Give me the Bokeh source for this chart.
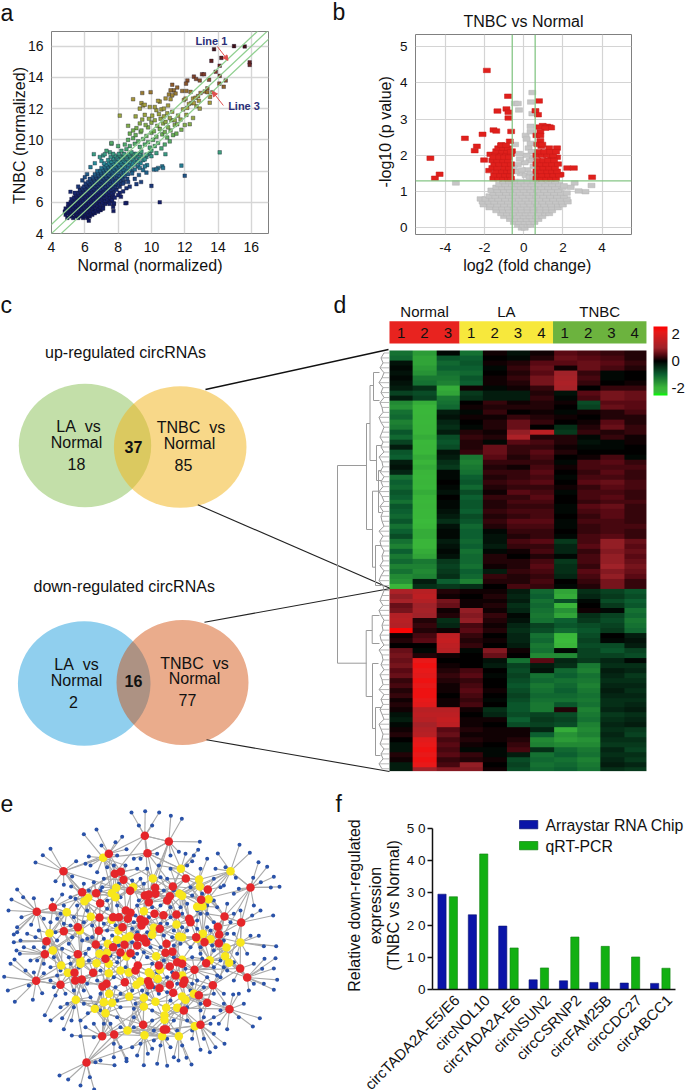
import numpy as np
from bokeh.core.properties import value
from bokeh.embed import file_html
from bokeh.models import (Arrow, ColorBar, ColumnDataSource, FixedTicker,
                          LinearAxis, LinearColorMapper, NormalHead, Range1d)
from bokeh.plotting import figure
from bokeh.resources import INLINE
from bokeh.transform import transform

FONT = "Liberation Sans"

# ---------- panel a: scatter ----------
a_blob_rows = {
 5.0:[4.95,5.3,5.6,5.9,6.15], 5.1:[5.1,5.45,5.75,6.05,6.3], 5.2:[4.85,5.2,5.55,5.85,6.2,6.45],
 5.3:[5.0,5.35,5.7,6.0,6.35,6.6], 5.4:[4.8,5.15,5.5,5.8,6.15,6.5,6.8], 5.5:[4.95,5.3,5.65,6.0,6.3,6.65,6.95],
 5.6:[4.85,5.15,5.45,5.8,6.15,6.45,6.8,7.05], 5.7:[5.0,5.3,5.6,5.95,6.3,6.6,6.9], 5.8:[5.1,5.45,5.75,6.1,6.45,6.75,7.1],
 5.9:[5.0,5.25,5.6,5.9,6.25,6.55,6.9,7.25], 6.0:[5.15,5.4,5.75,6.05,6.4,6.7,7.05,7.4], 6.1:[5.3,5.55,5.9,6.2,6.55,6.85,7.2,7.5],
 6.2:[5.2,5.45,5.7,6.05,6.35,6.7,7.0,7.35,7.6], 6.3:[5.35,5.6,5.85,6.2,6.5,6.85,7.15,7.5], 6.4:[5.5,5.75,6.0,6.35,6.65,7.0,7.3,7.65],
 6.5:[5.45,5.65,5.9,6.15,6.5,6.8,7.15,7.45,7.7], 6.6:[5.6,5.8,6.05,6.3,6.65,6.95,7.3,7.6], 6.7:[5.75,5.95,6.2,6.45,6.8,7.1,7.45,7.75],
 6.8:[5.7,5.9,6.1,6.35,6.6,6.95,7.25,7.6,7.9], 6.9:[5.85,6.05,6.25,6.5,6.75,7.1,7.4,7.7], 7.0:[5.95,6.2,6.4,6.65,6.9,7.25,7.55,7.85,8.1],
 7.1:[6.1,6.35,6.55,6.8,7.05,7.4,7.7,8.0], 7.2:[6.05,6.3,6.5,6.7,6.95,7.2,7.55,7.85,8.2], 7.3:[6.2,6.45,6.65,6.85,7.1,7.35,7.7,8.0,8.35],
 7.4:[6.35,6.6,6.8,7.0,7.25,7.5,7.85,8.15], 7.5:[6.3,6.55,6.75,6.95,7.15,7.4,7.65,8.0,8.3,8.55], 7.6:[6.5,6.7,6.9,7.1,7.3,7.6,7.9,8.2],
 7.7:[6.65,6.85,7.05,7.25,7.5,7.75,8.05,8.4], 7.8:[6.6,6.8,7.0,7.2,7.4,7.65,7.9,8.25,8.6], 7.9:[6.8,7.0,7.2,7.45,7.7,8.0,8.35],
 8.0:[6.75,6.95,7.15,7.35,7.6,7.85,8.15,8.5,8.85], 8.1:[7.1,7.3,7.5,7.75,8.0,8.3,8.7], 8.2:[7.0,7.25,7.45,7.7,7.95,8.2,8.55],
 8.3:[7.2,7.4,7.6,7.85,8.1,8.4,8.8,9.2], 8.4:[7.3,7.55,7.8,8.05,8.3,8.6,9.0], 8.5:[7.15,7.45,7.7,7.95,8.2,8.5,8.85,9.35],
 8.6:[7.6,7.9,8.15,8.4,8.7,9.1], 8.7:[7.4,7.75,8.05,8.3,8.6,8.95,9.5], 8.8:[7.7,8.0,8.25,8.55,8.85,9.25],
 8.9:[7.55,7.9,8.2,8.5,8.75,9.1,9.7], 9.0:[7.8,8.1,8.4,8.7,9.0,9.4], 9.1:[7.7,8.05,8.35,8.65,8.95,9.3,9.9],
}
a_sparse_x = [10.5,10.0,12.0,11.8,14.1,8.5,8.1,9.95,7.7,7.75,7.6,7.1,7.5,9.0,9.3,9.7,10.15,10.4,10.65,10.0,9.6,9.2,
 8.2,8.5,8.8,9.1,9.4,9.7,10.0,10.3,8.4,8.7,9.0,9.3,9.6,9.9,10.2,10.6,8.6,8.9,9.2,9.5,9.8,10.1,10.4,10.8,11.1,
 8.7,9.05,9.35,9.7,10.0,10.3,10.65,10.95,11.3,9.1,9.4,9.8,10.15,10.5,10.8,11.15,11.5,9.3,9.65,10.0,10.35,10.7,11.0,11.4,11.8,
 8.6,8.9,9.45,9.85,10.2,10.55,10.85,11.2,11.55,12.0,9.05,9.6,10.05,10.45,10.75,11.1,11.4,11.75,12.3,9.3,9.9,10.3,10.6,10.95,11.25,11.6,12.1,12.5,
 9.4,9.5,9.6,10.2,10.5,10.75,11.0,11.9,12.15,12.4,12.7,10.4,10.85,11.15,11.95,12.25,12.55,12.85,12.9,
 11.05,11.25,11.35,11.45,11.15,11.25,11.55,11.85,12.1,12.35,12.05,12.5,12.65,12.8,12.95,13.2,13.36,13.36,13.66,13.52,13.5,
 12.16,12.08,12.55,12.68,12.9,13.04,13.16,13.46,13.86,14.1,14.46,14.08,14.34,14.1,13.6,13.76,14.2,14.96,15.6,15.9,15.9,
 8.9,9.45,8.3,8.1,
 5.14,6.54,7.2,7.6,6.34,6.14,6.24,7.73,8.44,10.3,10.7,10.84,9.38,9.1,8.6,9.74,9.5,8.84,8.0,8.17,7.72,7.64,
 5.4,5.6,5.85,6.0,6.6,6.9,7.0,7.3,8.0,7.1,7.5,7.8,8.3,8.5,8.7,9.0,9.25,9.6]
a_sparse_y = [6.0,7.05,7.7,8.35,9.2,5.95,11.55,13.05,5.7,5.9,9.75,9.0,9.2,8.1,8.2,7.9,8.1,8.2,8.3,8.95,8.75,8.6,
 9.3,9.4,9.2,9.1,9.25,9.05,9.3,9.15,9.7,9.6,9.75,9.55,9.7,9.5,9.6,9.45,10.0,10.1,9.9,10.05,9.85,10.0,9.8,9.7,9.9,
 10.4,10.3,10.5,10.25,10.45,10.2,10.35,10.15,10.3,10.75,10.6,10.8,10.55,10.7,10.5,10.6,10.4,11.05,10.95,11.1,10.9,11.05,10.8,10.95,10.65,
 10.9,10.6,11.3,11.35,11.25,11.35,11.15,11.25,11.0,10.95,11.5,11.6,11.55,11.65,11.5,11.4,11.25,11.3,11.0,12.0,12.1,11.9,11.95,11.7,11.8,11.55,11.6,11.4,
 12.35,12.2,12.25,12.1,12.45,12.0,12.2,11.95,12.05,12.35,12.15,12.5,12.65,12.6,12.55,12.3,12.35,12.5,12.0,
 12.9,13.53,13.17,12.97,13.17,12.85,13.35,13.13,13.13,13.07,12.64,12.64,12.7,12.8,13.0,13.1,13.3,13.05,13.05,12.75,12.38,
 13.8,13.6,14.05,13.9,13.8,14.2,14.2,13.85,14.36,14.1,13.8,13.6,13.4,14.75,15.06,15.8,15.25,16.0,15.98,14.96,14.8,
 12.6,13.0,7.2,6.6,
 6.67,9.08,9.08,9.8,8.25,7.8,4.82,5.94,5.94,8.1,8.2,9.08,7.3,7.16,7.3,8.38,8.06,7.85,6.46,6.35,5.44,6.14,
 6.6,7.0,7.4,7.6,8.5,8.9,8.65,9.3,9.6,5.6,5.9,6.3,6.7,6.9,7.0,7.5,7.75,8.3]
a_lines_fold = [-0.585, 0.0, 0.585]
a_ticks = [4, 6, 8, 10, 12, 14, 16]

# ---------- panel b: volcano ----------
b_gray_rows = {
 0.0:[-0.1,0.05], 0.08:[-0.3,-0.05,0.2,0.35], 0.16:[-0.5,-0.25,0.05,0.3,0.55], 0.24:[-0.7,-0.45,-0.15,0.15,0.45,0.75],
 0.32:[-1.0,-0.7,-0.35,0,0.3,0.65,0.95], 0.4:[-1.15,-0.85,-0.55,-0.2,0.1,0.4,0.75,1.1,1.3], 0.48:[-1.4,-1.05,-0.75,-0.4,-0.1,0.2,0.5,0.85,1.15,1.45],
 0.56:[-1.75,-1.4,-1.1,-0.8,-0.5,-0.15,0.2,0.5,0.85,1.15,1.45,1.75], 0.64:[-2.05,-1.7,-1.35,-1.0,-0.65,-0.3,0,0.35,0.7,1.05,1.4,1.75,2.0],
 0.72:[-2.1,-1.8,-1.5,-1.15,-0.8,-0.45,-0.1,0.25,0.6,0.95,1.3,1.65,1.95,2.25], 0.8:[-2.2,-1.95,-1.6,-1.3,-0.95,-0.6,-0.25,0.1,0.45,0.8,1.15,1.5,1.85,2.2],
 0.88:[-1.75,-1.45,-1.1,-0.75,-0.4,-0.05,0.3,0.65,1.0,1.35,1.7,2.05], 0.96:[-1.55,-1.25,-0.9,-0.55,-0.2,0.15,0.5,0.85,1.2,1.55,1.9,2.2],
 1.04:[-1.65,-1.35,-1.0,-0.7,-0.35,0,0.35,0.7,1.05,1.4,1.75], 1.12:[-1.4,-1.1,-0.8,-0.45,-0.15,0.2,0.55,0.9,1.25,1.6,2.0],
 1.2:[-1.25,-0.95,-0.6,-0.3,0.05,0.4,0.75,1.1,1.45,1.8], 1.28:[-1.05,-0.75,-0.45,-0.15,0.2,0.5,0.9,1.3,1.6],
}
b_gray_x = [-3.46,2.6,3.46,3.15,2.8,2.4,2.05,0.44,-0.45,-0.3,0.37,-0.24,0.44,0.35,0.1,0.35,-0.44,0.35,-0.24,
 0.45,0.3,0.05,0.25,0.15,0.4,-0.2,-0.3,-0.5,-0.15,-0.4,0.5,0.2,0.1,-0.1,0.35,0.3,0.5,0.15]
b_gray_y = [1.24,1.24,1.17,1.0,1.02,1.12,1.16,3.73,3.43,3.43,3.47,3.25,3.15,2.8,2.55,2.65,2.3,2.33,2.05,
 1.95,1.85,1.8,2.2,2.45,2.1,1.9,1.75,1.65,1.5,1.55,1.7,1.6,1.45,1.6,1.5,1.4,1.4,2.0]
b_red_x = [-1.88,-0.8,-4.76,-4.29,-4.53,-3.0,-2.1,-2.39,-2.5,-2.02,-1.34,-0.88,-0.78,-0.78,-1.54,-1.4,-0.64,-0.71,-1.14,-1.76,
 0.78,0.6,0.73,0.97,0.8,1.2,1.33,1.4,1.1,0.85,0.85,0.9,1.3,1.7,1.5,1.7,1.4,1.3,2.22,2.56,3.49,1.88,
 -1.55,-1.3,-1.05,-0.8,-0.65,-1.5,-1.2,-0.95,-0.7,-1.4,-1.1,-0.85,-0.65,-1.6,-1.35,-1.0,-0.75,-1.5,-1.25,-0.95,-0.65,
 -1.6,-1.35,-1.05,-0.8,-1.7,-1.45,-1.15,-0.9,-0.65,-1.55,-1.25,-1.0,-0.75,-1.4,-1.1,-0.85,-0.6,-1.3,-1.05,-0.8,-1.15,-0.9,-0.65,
 0.65,0.9,1.15,1.4,1.65,0.7,0.95,1.25,1.5,1.8,0.65,0.9,1.2,1.45,1.7,0.75,1.0,1.3,1.6,0.65,0.9,1.15,1.45,1.75,0.7,1.0,1.25,1.55,
 0.65,0.95,1.2,1.5,0.75,1.05,1.35,1.65,0.7,0.95,0.65,0.85]
b_red_y = [4.34,3.63,1.92,1.48,1.37,2.47,2.58,2.25,2.13,1.87,3.22,3.28,3.19,3.03,2.7,2.67,2.66,2.39,2.29,1.58,
 3.5,3.23,3.12,2.82,2.78,2.8,2.78,2.76,2.75,2.65,2.4,2.25,2.2,2.2,2.1,1.95,1.95,1.85,1.65,1.65,1.4,1.47,
 1.36,1.36,1.36,1.36,1.36,1.46,1.46,1.46,1.46,1.56,1.56,1.56,1.56,1.66,1.66,1.66,1.66,1.76,1.76,1.76,1.76,
 1.86,1.86,1.86,1.86,2.03,2.03,2.03,2.03,2.03,1.95,1.95,1.95,1.95,2.12,2.12,2.12,2.12,2.2,2.2,2.2,2.28,2.28,2.1,
 1.36,1.36,1.36,1.36,1.36,1.46,1.46,1.46,1.46,1.46,1.56,1.56,1.56,1.56,1.56,1.66,1.66,1.66,1.66,1.76,1.76,1.76,1.76,1.76,1.86,1.86,1.86,1.86,
 2.0,2.0,2.0,2.0,2.1,2.1,2.1,2.1,2.3,2.3,2.55,2.55]
b_cut_x = [-0.585, 0.585]
b_cut_y = 1.3

# ---------- panel c: Venn ----------
SP = "\u00a0\u00a0"
venn_up = ["LA" + SP + "vs", "Normal", "18", "37", "TNBC" + SP + "vs", "Normal", "85"]
venn_down = ["LA" + SP + "vs", "Normal", "2", "16", "TNBC" + SP + "vs", "Normal", "77"]

# ---------- panel d: heatmap (tenths of a log2 ratio; 48 upper rows then 37 lower rows) ----------
N1 = [-12,-11,-2,-1,-2,-1,-2,-3,-7,-3,-15,-16,-12,-11,-14,-13,-9,-11,-7,-3,-9,-10,-3,-2,-4,-12,-10,-11,-9,-10,-12,-9,-10,-11,-9,-12,-10,-8,-12,-14,-10,-13,-11,-14,-12,-15,-16,-20,
      12,9,11,6,7,13,14,13,25,1,2,0,6,7,6,7,5,6,3,4,2,3,1,2,1,-2,-3,-1,1,2,0,-2,-2,2,1,-3,-3]
N2 = [-17,-18,-18,-17,-16,-13,-12,-5,-8,-7,-19,-20,-21,-20,-21,-20,-20,-19,-21,-20,-21,-19,-20,-19,-20,-21,-20,-21,-19,-20,-21,-20,-21,-21,-22,-21,-19,-19,-20,-20,-19,-18,-13,-14,-15,-14,-3,-5,
      14,15,13,10,11,10,2,3,2,4,5,0,-1,2,22,23,22,21,23,22,23,23,22,21,14,15,14,11,13,14,21,22,23,22,23,22,10]
N3 = [-1,-9,-11,-10,-12,-13,-14,-19,-18,-13,-12,-11,-3,-2,-4,-5,-3,-8,-9,-8,-2,-3,-5,-6,-1,-1,0,-1,-2,0,-1,-1,-2,-3,-5,-2,-1,-1,-3,-2,-1,-2,-6,-7,-6,-5,-10,-6,
      2,1,7,6,1,2,-5,-4,1,15,16,15,14,1,0,1,2,3,2,1,1,0,1,1,14,15,16,15,5,6,4,5,4,5,3,4,8]
L1 = [-12,-10,-9,-10,-11,-9,-10,1,-6,-5,0,1,-1,1,0,-1,2,3,2,2,3,-13,-14,-13,-12,-10,-9,-11,-8,-10,-9,-9,-10,-8,-9,-11,-10,-10,-11,-10,-12,-11,-11,-12,-10,-11,-14,-5,
      1,0,1,1,9,8,9,4,5,3,2,3,-1,0,0,0,4,5,3,4,5,4,3,4,1,0,1,1,2,1,2,1,-1,3,2,9,8]
L2 = [1,0,1,-1,0,1,1,-1,-3,-3,3,2,3,1,2,2,1,2,-1,6,6,5,3,2,3,2,3,2,1,3,2,2,3,2,3,2,-1,-2,-2,-3,-1,2,2,1,-3,3,2,0,
      1,2,1,2,1,3,2,1,2,0,1,0,8,6,-2,-3,0,-1,0,0,1,0,-1,0,-5,-4,1,0,1,1,1,0,-1,-1,1,0,1]
L3 = [-2,-1,2,3,2,3,2,1,-3,-3,1,2,0,3,6,6,9,12,5,3,3,2,3,1,3,3,4,3,5,3,4,3,4,3,5,4,3,2,4,3,1,0,2,2,3,2,2,4,
      -3,-4,-3,-5,-4,-1,-2,-4,-5,-4,-4,-3,1,0,-12,-7,-8,-7,-8,-9,-8,-7,-8,-9,-9,-8,-10,-8,1,1,2,3,4,-3,-8,-7,-8]
L4 = [1,2,5,6,5,7,7,3,2,3,2,2,1,2,3,0,15,2,4,3,5,4,3,4,5,4,5,3,4,5,4,3,4,4,5,4,3,3,5,3,4,2,4,5,4,3,4,3,
      -11,-10,-12,-11,-12,-13,-12,-7,-8,-12,-11,-13,-12,-15,5,-3,-2,-12,-11,-13,-12,-11,-12,-13,-13,-7,-6,-7,-4,-10,-15,-14,-5,-12,-11,-12,-11]
T1 = [5,6,5,1,10,11,12,11,-2,-1,1,0,-1,1,0,-5,-6,2,2,1,2,0,-1,1,0,-1,0,1,-1,0,0,-1,-1,0,-1,-1,0,-1,-6,-4,-4,-1,-6,-5,-5,-4,0,-1,
      -18,-19,-8,-20,-16,-18,-10,-9,-11,-21,-22,-20,-1,-15,-4,-5,-11,-10,-12,-11,-10,-11,-12,-9,2,-8,-7,-8,-19,-16,-17,-15,-11,-10,-12,-11,-10]
T2 = [4,5,6,6,3,4,3,0,5,4,-8,-7,1,0,1,2,3,-1,-2,-1,0,1,4,4,3,4,5,3,4,4,3,5,4,3,4,3,3,4,4,5,3,4,4,3,5,4,3,2,
      -5,-4,-1,0,1,-5,-6,-8,-9,-8,-7,-8,-7,-7,-6,-13,-14,-12,-13,-14,-13,-12,-13,-12,-14,-13,-12,-14,-15,-14,-16,-15,-13,-12,-14,-13,-12]
T3 = [3,4,5,4,-1,-1,0,3,7,7,5,6,2,2,5,6,2,3,-1,-1,0,4,5,4,5,4,6,5,4,5,4,6,5,5,4,4,4,5,9,9,8,9,9,10,8,9,7,7,
      -7,-6,-8,-6,-1,-7,-8,-7,-6,0,-1,-8,-9,-7,-4,-5,-3,-4,-5,-4,-3,-4,-5,-5,-4,-6,-5,-4,-5,-4,-5,-6,-4,-5,-4,-3,-5]
T4 = [2,2,3,2,0,0,1,3,6,6,5,5,4,2,2,3,3,1,1,0,0,-1,3,4,3,3,4,4,3,3,4,3,3,3,3,4,3,3,6,5,6,5,6,7,6,5,3,3,
      -9,-8,-10,-9,-12,-11,-13,-12,-11,-3,-2,-3,-7,-8,-1,-5,-4,-6,-5,-4,-5,-4,-5,-4,-3,-5,-4,-3,-6,-7,-5,-6,-7,-5,-6,-4,-6]
heat_columns = [N1,N2,N3,L1,L2,L3,L4,T1,T2,T3,T4]
heat_groups = ["Normal","LA","TNBC"]
heat_group_sizes = [3,4,4]
heat_leaf_depth = [5,8,6,9,5,7,10,6,8,5,9,7,6,10,8,5,7,9,6,8,5,10,7,6,9,5,8,6,10,7,5,9,6,8,7,5,10,6,9,8,5,7,6,9,5,8,10,6,
                   5,7,9,6,10,8,5,7,6,9,8,5,10,7,6,8,5,9,7,6,10,5,8,6,9,7,5,10,8,6,7,9,5,8,6,10,7]

# ---------- panel e: network layout ----------
e_red = [(433,136),(505,153),(441,188),(325,190),(189,242),(343,250),(361,244),(369,268),(556,264),(750,291),(245,305),(287,308),(389,301),(464,292),(517,288),(622,297),(433,315),(445,312),(465,310),(508,317),(500,330),(602,328),(445,335),(299,338),(157,350),(109,364),(376,360),(390,367),(462,370),(489,374),(528,372),(672,378),(297,381),(338,380),(355,380),(382,385),(420,387),(433,393),(423,405),(566,385),(570,395),(722,396),(652,409),(232,410),(366,410),(190,422),(295,421),(478,415),(656,432),(138,452),(587,440),(612,455),(655,458),(412,440),(430,445),(437,456),(410,465),(286,462),(372,463),(498,460),(338,470),(133,491),(232,491),(360,486),(390,488),(495,487),(516,484),(315,505),(617,518),(412,525),(475,525),(405,540),(508,528),(530,515),(545,520),(582,538),(719,534),(740,561),(278,547),(222,547),(525,555),(107,571),(180,583),(224,570),(244,567),(318,580),(306,588),(373,575),(443,572),(448,584),(552,570),(548,580),(637,584),(477,593),(508,583),(518,607),(595,614),(620,637),(687,656),(550,660),(428,703),(600,703),(305,737),(341,732),(490,717),(497,717),(258,816)]
e_yellow = [(308,202),(541,235),(690,242),(457,264),(596,267),(598,288),(398,290),(347,292),(537,310),(545,316),(334,308),(345,320),(263,322),(252,332),(624,326),(590,349),(606,347),(199,365),(430,362),(271,379),(333,388),(528,402),(460,412),(455,433),(147,428),(238,420),(354,420),(607,430),(590,445),(630,446),(536,438),(545,440),(388,437),(375,445),(350,448),(720,456),(678,471),(322,460),(157,480),(297,490),(320,487),(378,498),(467,497),(674,497),(686,517),(628,509),(545,508),(240,510),(240,520),(182,525),(288,518),(325,520),(202,547),(325,548),(360,540),(385,546),(445,545),(450,553),(478,538),(472,565),(545,555),(420,572),(408,583),(580,610),(545,618),(555,628),(386,618),(430,622),(465,634),(326,610),(310,635),(335,637),(226,628),(283,655),(430,648),(497,652),(530,652),(315,668),(492,675),(492,688),(583,707),(381,720),(432,734),(485,737),(535,737)]
e_blue = [(393,66),(434,62),(476,66),(511,76),(544,85),(415,105),(455,105),(250,131),(288,117),(365,139),(345,155),(150,175),(127,194),(105,216),(265,198),(303,165),(378,176),(598,154),(593,178),(535,184),(652,189),(717,163),(748,187),(774,215),(800,229),(820,259),(837,289),(811,291),(781,275),(758,262),(706,262),(675,230),(645,235),(620,205),(575,212),(555,190),(580,195),(510,195),(470,190),(420,205),(400,205),(350,195),(320,230),(290,245),(270,225),(255,220),(227,212),(165,272),(190,283),(215,258),(50,297),(68,320),(33,327),(100,323),(155,327),(185,312),(212,288),(24,360),(92,403),(63,380),(50,410),(40,432),(50,425),(40,455),(60,450),(48,480),(58,490),(42,507),(30,520),(100,546),(11,559),(22,600),(43,634),(97,628),(125,608),(85,585),(130,548),(150,530),(133,674),(150,690),(185,683),(190,716),(214,735),(240,737),(213,690),(240,690),(255,710),(262,668),(280,700),(285,645),(220,650),(180,650),(195,610),(165,615),(170,555),(130,520),(160,500),
 (177,855),(203,867),(240,885),(281,897),(268,860),(285,815),(300,810),(340,800),(342,824),(378,805),(378,812),(410,795),(430,824),(442,790),(470,820),(500,826),(520,800),(534,810),(558,802),(573,822),(600,778),(628,785),(645,770),(672,760),(680,716),(757,708),(778,683),(715,680),(730,640),(698,612),(785,535),(790,580),(820,598),(830,568),(820,534),(792,505),(825,503),(827,467),(790,467),(775,436),(750,436),(818,375),(780,360),(755,375),(760,345),(720,360),(680,340),(700,310),(715,295),(660,290),(640,330),(620,370),(590,390),
 (340,760),(360,770),(395,770),(420,760),(455,775),(480,765),(510,770),(545,765),(575,745),(610,745),(640,730),(655,700),(330,700),(350,680),(400,680),(455,690),(520,690),(560,690),(640,680),(670,640),(700,570),(660,560),(680,540),(760,520),(740,490),(710,490),(700,430),(690,395),(700,370),(640,395),(620,410),(600,370),(560,340),(540,350),(510,350),(480,345),(410,345),(350,345),(320,355),(260,360),(230,345),(210,320),(250,280),(280,275),(310,265),(340,225),(375,225),(410,235),(440,235),(475,225),(510,235),(560,225),(600,235),(640,265),(670,285),(480,260),(430,280),(500,265),(570,290),
 (80,430),(100,470),(170,450),(205,460),(260,445),(265,475),(190,400),(170,385),(220,380),(250,395),(310,400),(335,435),(395,415),(500,400),(515,440),(560,420),(570,470),(600,490),(640,480),(660,510),(590,570),(620,560),(670,610),(560,650),(610,680),(475,610),(405,640),(360,610),(360,650),(250,600),(270,620),(220,600),(150,570),(110,510),(105,440),(440,500),(400,500),(350,515),(265,510),(500,560),(440,610),(300,540),
 (300,300),(320,330),(360,320),(415,330),(455,350),(405,375),(445,380),(480,400),(510,380),(545,370),(590,360),(620,345),(650,350),(605,310),(575,315),(520,300),(490,300),(420,265),(395,270),(355,280),(305,290),(265,300),(225,325),(190,345),(180,370),(150,395),(130,385),(115,420),(165,425),(210,405),(275,405),(320,420),(345,405),(400,395),(410,425),(440,425),(490,435),(520,420),(545,410),(590,415),(630,420),(680,430),(670,450),(635,465),(600,470),(540,460),(520,465),(480,470),(450,470),(395,455),(355,465),(310,445),(275,440),(245,450),(215,440),(185,475),(205,500),(255,490),(300,470),(330,495),(355,500),(410,490),(430,485),(455,520),(490,510),(520,500),(575,500),(605,505),(640,530),(670,530),(700,515),(650,555),(610,590),(575,580),(530,580),(500,605),(460,590),(425,600),(395,600),(345,590),(300,610),(290,570),(260,580),(235,530),(210,520),(180,540),(160,590),(200,640),(250,640),(300,660),(350,630),(400,655),(455,660),(510,630),(570,600),(600,640),(640,610),(660,660),(600,660),(530,720),(460,720),(400,710),(360,710),(310,700),(280,740),(460,750),(500,745),(575,720),(630,700),(715,610),(745,600),(760,580),(130,470),(90,510),(75,540),(70,470),(450,445),(375,530),(340,560),(470,545),(515,545),(555,535)]

# ---------- panel f: bars ----------
f_genes = ["circTADA2A-E5/E6","circNOL10","circTADA2A-E6","circNSUN2","circCSRNP2","circFAM25B","circCDC27","circABCC1"]
f_chip = [29.6,23.2,19.7,3.0,2.7,2.2,2.0,1.9]
f_pcr = [28.8,42.1,12.9,6.7,16.3,13.4,10.1,6.6]
f_ticks = [0,10,20,30,40,50]
f_tick_text = {0:"0",10:"1 0",20:"2 0",30:"3 0",40:"4 0",50:"5 0"}
f_series = ["Arraystar RNA Chip", "qRT-PCR"]


def pos(left, top):
    return {"position": "absolute", "left": f"{left}px", "top": f"{top}px"}


def panel(left, top, bl, bt, fw, fh, bb, br, **kw):
    return figure(frame_width=fw, frame_height=fh, min_border_left=bl, min_border_top=bt,
                  min_border_bottom=bb, min_border_right=br, toolbar_location=None,
                  output_backend="svg", styles=pos(left, top), background_fill_color=None,
                  border_fill_color=None, **kw)


def style_axes(p, size="14px"):
    for ax in (p.xaxis[0], p.yaxis[0]):
        ax.axis_line_color = None
        ax.major_tick_line_color = None
        ax.minor_tick_line_color = None
        ax.major_label_text_font = FONT
        ax.major_label_text_font_size = size
        ax.major_label_text_color = "#111111"
        ax.major_label_standoff = 2


# ---------- background layer: panel letters, Venn diagrams, connectors, dendrogram ----------
bg = figure(width=685, height=1092, x_range=Range1d(0, 685), y_range=Range1d(1092, 0),
            x_axis_type=None, y_axis_type=None, toolbar_location=None, output_backend="svg",
            min_border=0, outline_line_color=None, styles=pos(0, 0))
bg.grid.visible = False


def bg_text(x, y, txt, size, align="center", color="#111111", style="normal", angle=0.0):
    bg.text([x], [y], text=[txt], text_font=value(FONT), text_font_size=size, text_align=align,
            text_baseline="middle", text_color=color, text_font_style=style, angle=angle)


for x, y, t in [(0, 12, "a"), (332, 11, "b"), (0, 304, "c"), (333, 304, "d"), (0, 803, "e"), (335, 803, "f")]:
    bg_text(x, y, t, "23px", align="left")

# axis titles of panels a and b sit off-centre in the reference
bg_text(149.5, 265, "Normal (normalized)", "16px")
bg_text(18.5, 135, "TNBC (normalized)", "16px", angle=np.pi / 2)
bg_text(526.7, 265, "log2 (fold change)", "16px")
bg_text(385, 131.3, "-log10 (p value)", "16px", angle=np.pi / 2)

bg_text(125, 352, "up-regulated circRNAs", "16px")
bg_text(123.7, 585.5, "down-regulated circRNAs", "16px")

bg.ellipse([84.5], [445], width=132.4, height=123.4, fill_color="#c3dfa9", line_color=None)
bg.ellipse([179.7], [446.5], width=132.6, height=121.6, fill_color="#f1b41c", fill_alpha=0.52, line_color=None)
bg.ellipse([83.7], [683], width=132.6, height=124.6, fill_color="#90cfee", line_color=None)
bg.ellipse([182], [682], width=132, height=125, fill_color="#d14700", fill_alpha=0.45, line_color=None)

for (x, y), t in zip([(78, 426), (76, 442), (76, 463), (133, 446), (190.5, 427), (189, 443), (183, 464)], venn_up):
    bg_text(x, y, t, "16px", style="bold" if t == "37" else "normal")
for (x, y), t in zip([(76, 664), (76, 680), (73, 701), (133, 680), (194, 663), (194, 678), (187, 699)], venn_down):
    bg_text(x, y, t, "16px", style="bold" if t == "16" else "normal")

bg.segment([205], [389], [388], [349], line_color="#111111", line_width=1.5)
bg.segment([197.3, 204, 206], [504.3, 621.7, 739.3], [390, 390, 389], [588, 588, 771],
           line_color="#222222", line_width=1.1)

# dendrogram: merge heights and row spans
dv_x = [337, 366, 369.5, 373, 372, 378, 375, 365.7, 371.7, 372, 375, 376]
dv_a = [465, 423, 385, 372, 490.7, 470, 545, 630, 615, 663, 707, 445]
dv_b = [662.7, 529, 460, 400, 566.7, 512, 585, 696, 643, 728, 755, 480]
dh_y = [465, 662.7, 423, 529, 385, 460, 372, 400, 490.7, 566.7, 470, 512, 545, 585, 630, 696, 615, 643, 663, 728, 707, 755, 445, 480]
dh_a = [337, 337, 366, 366, 369.5, 369.5, 373, 373, 372, 372, 378, 378, 375, 375, 365.7, 365.7, 371.7, 371.7, 372, 372, 375, 375, 376, 376]
dh_b = [366, 366, 369.5, 372, 373, 376, 379, 379, 378, 375, 381, 381, 381, 381, 371.7, 372, 379, 379, 378, 375, 381, 380, 381, 381]
bg.segment(dv_x, dv_a, dv_x, dv_b, line_color="#9a9a9a", line_width=1)
bg.segment(dh_a, dh_y, dh_b, dh_y, line_color="#9a9a9a", line_width=1)
leaf_y = [350 + 4.95 * (i + 0.5) for i in range(len(heat_leaf_depth))]
leaf_x = [388.5 - d for d in heat_leaf_depth]
bg.line(leaf_x, leaf_y, line_color="#9a9a9a", line_width=1)
bg.segment(leaf_x, leaf_y, [388.5] * len(leaf_x), leaf_y, line_color="#a5a5a5", line_width=0.8)

bg_text(354, 905, "Relative down-regulated", "16px", angle=np.pi / 2)
bg_text(375, 905, "expression", "16px", angle=np.pi / 2)
bg_text(393, 905, "(TNBC vs Normal)", "16px", angle=np.pi / 2)

# legend of panel f
bg.quad(left=[519], right=[537.3], top=[820], bottom=[828.3], fill_color="#0a14a8", line_color="#0a1470", line_width=0.7)
bg.quad(left=[519], right=[537.3], top=[841], bottom=[849.3], fill_color="#12b012", line_color="#108010", line_width=0.7)
bg_text(545, 824.5, f_series[0], "15.8px", align="left")
bg_text(545, 846, f_series[1], "15.8px", align="left")

# ---------- panel a ----------
pa = panel(0, 0, 51, 31, 217, 202, 44, 6, x_range=Range1d(4, 17.03), y_range=Range1d(4, 16.94))
style_axes(pa)
pa.xaxis.ticker = FixedTicker(ticks=a_ticks)
pa.yaxis.ticker = FixedTicker(ticks=a_ticks)
pa.grid.grid_line_color = "#d6d6d6"
pa.grid.grid_line_width = 1.4
pa.outline_line_color = "#808080"
stops = [(5, "#10185a"), (6.5, "#18246e"), (7.5, "#1f4a80"), (8.5, "#2a8c98"), (9.5, "#4aa870"), (10.5, "#6fb04f"),
         (11.5, "#9aa642"), (12.5, "#a89a3a"), (13.5, "#8d5f2e"), (14.5, "#7a2f28"), (16, "#3e1018")]
def ramp(stops, n=256):
    xs = np.array([s[0] for s in stops], float)
    rgb = np.array([[int(s[1][i:i + 2], 16) for i in (1, 3, 5)] for s in stops], float)
    q = np.linspace(xs[0], xs[-1], n)
    return ["#%02x%02x%02x" % tuple(int(np.interp(v, xs, rgb[:, c])) for c in range(3)) for v in q]
a_map = LinearColorMapper(palette=ramp(stops), low=5, high=16)
a_x = [x for y, xs in a_blob_rows.items() for x in xs] + a_sparse_x
a_y = [y for y, xs in a_blob_rows.items() for x in xs] + a_sparse_y
n_a = min(len(a_x), len(a_y))
a_src = ColumnDataSource(dict(x=a_x[:n_a], y=a_y[:n_a]))
pa.scatter("x", "y", source=a_src, marker="square", size=3.6, fill_color=transform("y", a_map),
           line_color="#14142a", line_width=0.5, line_alpha=0.7)
for f in a_lines_fold:
    pa.line([3, 18], [3 + f, 18 + f], line_color="#8fcf8f", line_width=1.2)
pa.text([13.6], [16.3], text=["Line 1"], text_font=value(FONT), text_font_size="11px", text_font_style="bold",
        text_align="center", text_baseline="middle", text_color="#2b2f77")
pa.text([15.56], [12.15], text=["Line 3"], text_font=value(FONT), text_font_size="11px", text_font_style="bold",
        text_align="center", text_baseline="middle", text_color="#2b2f77")
for x0, y0, x1, y1 in [(13.96, 15.98, 14.6, 15.09), (14.32, 12.2, 13.66, 13.1)]:
    pa.add_layout(Arrow(end=NormalHead(size=5, fill_color="#e0504f", line_color="#e0504f"), x_start=x0, y_start=y0,
                        x_end=x1, y_end=y1, line_color="#e0504f", line_width=1))

# ---------- panel b ----------
pb = panel(355, 0, 60, 34, 216, 200, 44, 6, x_range=Range1d(-5.52, 5.5), y_range=Range1d(-0.18, 5.33),
           title="TNBC vs Normal")
pb.title.text_font = FONT
pb.title.text_font_size = "16px"
pb.title.text_font_style = "normal"
pb.title.align = "center"
pb.title.offset = 4
pb.title.text_color = "#111111"
style_axes(pb, size="13.5px")
pb.xaxis.ticker = FixedTicker(ticks=[-4, -2, 0, 2, 4])
pb.yaxis.ticker = FixedTicker(ticks=[0, 1, 2, 3, 4, 5])
pb.xaxis.major_label_overrides = {-4: "-4", -2: "-2"}
pb.grid.grid_line_color = "#d4d4d4"
pb.grid.grid_line_width = 1.2
pb.outline_line_color = "#808080"
bg_x = [x for y, xs in b_gray_rows.items() for x in xs] + b_gray_x
bg_y = [y for y, xs in b_gray_rows.items() for x in xs] + b_gray_y
pb.rect(bg_x, bg_y, width=7, height=4.5, width_units="screen", height_units="screen", fill_color="#c6c6c6",
        line_color="#b4b4b4", line_width=0.5)
n_r = min(len(b_red_x), len(b_red_y))
pb.rect(b_red_x[:n_r], b_red_y[:n_r], width=7, height=4.5, width_units="screen", height_units="screen",
        fill_color="#e0201c", line_color="#c81a18", line_width=0.5)
for c in b_cut_x:
    pb.line([c, c], [-0.18, 5.33], line_color="#86c686", line_width=1.3)
pb.line([-5.52, 5.5], [b_cut_y, b_cut_y], line_color="#86c686", line_width=1.3)

# ---------- panel d ----------
pal_stops = [(-2.6, "#00ff00"), (-2.35, "#3cbe3c"), (-2.0, "#3ab53a"), (-1.0, "#0c5f30"), (0, "#000000"), (0.5, "#5a0a14"),
             (1.0, "#a0232a"), (2.2, "#e81a1a"), (2.6, "#ff0000")]
heat_map = LinearColorMapper(palette=ramp(pal_stops), low=-2.6, high=2.6)
cw, rh = 23.36, 4.95
pd_left, pd_top = 335, 300
pd_ = panel(pd_left, pd_top, 0, 0, 350, 471, 1, 0,
            x_range=Range1d((pd_left - 389) / cw, (685 - 389) / cw),
            y_range=Range1d((771 - 350) / rh, (pd_top - 350) / rh),
            x_axis_type=None, y_axis_type=None, outline_line_color=None)
pd_.grid.visible = False
heat_matrix = np.array([c[:85] for c in heat_columns], float).T / 10
pd_.image(image=[heat_matrix], x=0, y=0, dw=11, dh=85, color_mapper=heat_map)
cols = ["#e8231f", "#f7e83c", "#6cb33e"]
start = 0
for name, n, col in zip(heat_groups, heat_group_sizes, cols):
    pd_.quad(left=[start], right=[start + n], top=[-5.92], bottom=[-1.41], fill_color=col, line_color=None)
    pd_.text([start + n / 2], [-7.9], text=[name], text_font=value(FONT), text_font_size="15px", text_align="center",
             text_baseline="middle", text_color="#111111")
    pd_.text([start + i + 0.5 for i in range(n)], [-3.6] * n, text=[str(i + 1) for i in range(n)],
             text_font=value(FONT), text_font_size="15px", text_align="center", text_baseline="middle",
             text_color="#111111")
    start += n
cb = ColorBar(color_mapper=heat_map, ticker=FixedTicker(ticks=[-2, 0, 2]), location=(318, 376), width=14, height=69,
              major_tick_line_color=None, bar_line_color=None, padding=0, margin=0, label_standoff=4,
              major_label_text_font=FONT, major_label_text_font_size="15px", major_label_text_color="#111111",
              major_label_overrides={-2: "-2"}, background_fill_alpha=0, border_line_color=None)
pd_.add_layout(cb)

# ---------- panel e ----------
pe = panel(0, 790, 0, 0, 340, 300, 0, 0, x_range=Range1d(0, 1020), y_range=Range1d(900, 0),
           x_axis_type=None, y_axis_type=None, outline_line_color=None)
pe.grid.visible = False
hubs = np.array(e_red + e_yellow, float)
blue = np.array(e_blue, float)
ex0, ey0, ex1, ey1 = [], [], [], []
centre = hubs.mean(axis=0)
for b in blue:
    order = np.argsort(np.hypot(*(hubs - b).T))
    picks = order[[0, 2, 5]] if np.hypot(*(b - centre)) < 260 else order[:1]
    for i in picks:
        ex0.append(b[0]); ey0.append(b[1]); ex1.append(hubs[i][0]); ey1.append(hubs[i][1])
for h in hubs:
    order = np.argsort(np.hypot(*(hubs - h).T))
    for i in order[[1, 2, 3, 7, 14]]:
        ex0.append(h[0]); ey0.append(h[1]); ex1.append(hubs[i][0]); ey1.append(hubs[i][1])
pe.segment(ex0, ey0, ex1, ey1, line_color="#a9a9a9", line_width=1.1)
pe.scatter(blue[:, 0], blue[:, 1], size=4, fill_color="#2a52a8", line_color=None)
ya = np.array(e_yellow, float)
re_ = np.array(e_red, float)
pe.scatter(ya[:, 0], ya[:, 1], size=8.5, fill_color="#f8e71c", line_color=None)
pe.scatter(re_[:, 0], re_[:, 1], size=8.5, fill_color="#e5262a", line_color=None)

# ---------- panel f ----------
n_g = len(f_genes)
group_w = 243 / n_g
label_shift = 9 / group_w   # the rotated names end a little right of each group's centre
pf = panel(330, 800, 102, 28, 243, 161, 100, 10, x_range=Range1d(0, n_g), y_range=Range1d(0, 50), x_axis_type=None)
pf.extra_x_ranges = {"names": Range1d(-label_shift, n_g - label_shift)}
x_names = LinearAxis(x_range_name="names", ticker=FixedTicker(ticks=[i + 0.5 for i in range(n_g)]),
                     major_label_overrides={i + 0.5: g for i, g in enumerate(f_genes)},
                     major_label_orientation=np.pi / 4, major_label_text_font=FONT, major_label_text_font_size="15px",
                     major_label_text_color="#111111", major_label_standoff=2, major_tick_line_color=None,
                     minor_tick_line_color=None, axis_line_color="#111111", axis_line_width=1.5)
pf.add_layout(x_names, "below")
yax = pf.yaxis[0]
yax.major_label_text_font = FONT
yax.major_label_text_font_size = "13.5px"
yax.major_label_text_color = "#111111"
yax.major_label_standoff = 2
yax.minor_tick_line_color = None
yax.ticker = FixedTicker(ticks=f_ticks)
yax.major_label_overrides = f_tick_text
yax.axis_line_color = "#111111"
yax.axis_line_width = 1.5
yax.major_tick_line_color = "#111111"
yax.major_tick_line_width = 1.5
yax.major_tick_in = 0
yax.major_tick_out = 5
pf.grid.visible = False
pf.outline_line_color = None
f_pos = [i + 0.5 for i in range(n_g)]
pf.vbar(x=[p - 0.187 for p in f_pos], top=f_chip, width=0.27, fill_color="#0a14a8", line_color="#0a1470", line_width=0.6)
pf.vbar(x=[p + 0.187 for p in f_pos], top=f_pcr, width=0.27, fill_color="#12b012", line_color="#108010", line_width=0.6)

open("out.html", "w").write(file_html([bg, pa, pb, pd_, pe, pf], INLINE))
